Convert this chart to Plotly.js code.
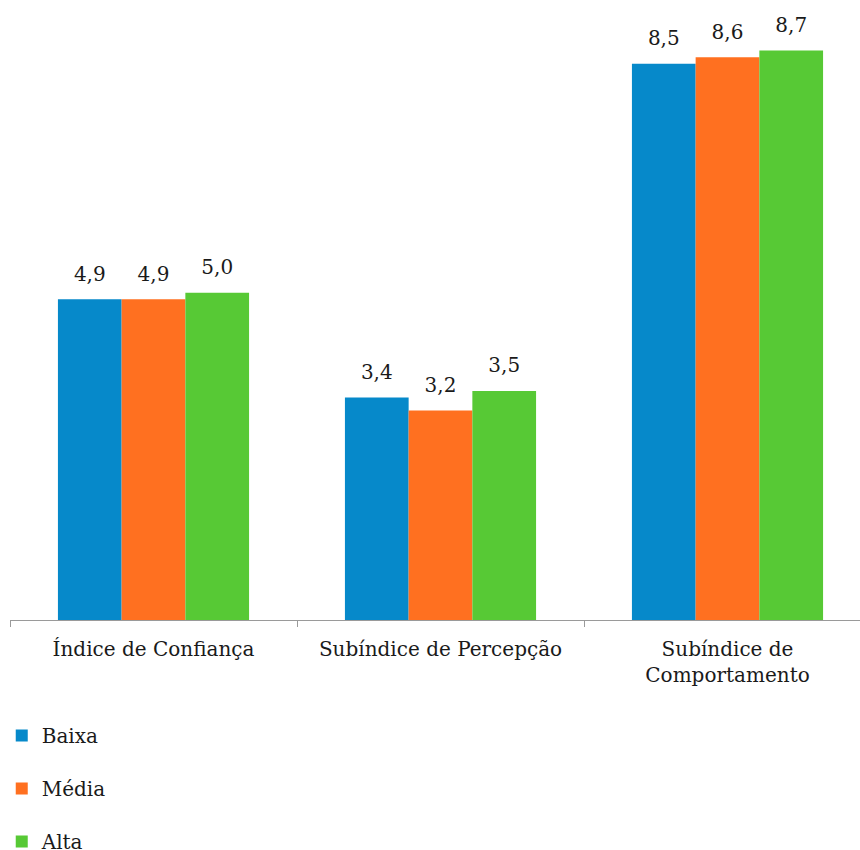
<!DOCTYPE html>
<html><head><meta charset="utf-8">
<script src="https://cdn.plot.ly/plotly-3.0.1.min.js"></script>
<style>html,body{margin:0;padding:0;overflow:hidden;background:#fff}</style>
</head><body><div id="chart"></div>
<script>
const categories = ["Índice de Confiança", "Subíndice de Percepção", "Subíndice de<br>Comportamento"];
const seriesNames = ["Baixa", "Média", "Alta"];
const baixa = [4.9, 3.4, 8.5];
const media = [4.9, 3.2, 8.6];
const alta = [5.0, 3.5, 8.7];
const colors = ["#0689CA", "#FF7020", "#57C935"];
const values = [baixa, media, alta];
const FONT = "DejaVu Serif";
const GAP = 0.334;
const bars = values.map((v, i) => ({
  type: "bar", x: categories, y: v, name: seriesNames[i], legendgroup: "g" + i,
  marker: {color: colors[i], line: {width: 0}},
  hoverinfo: "skip"
}));
const labels = values.map((v, i) => ({
  type: "scatter", mode: "markers+text", x: categories, y: v, showlegend: false,
  marker: {size: 20, opacity: 0, color: colors[i]},
  text: v.map(n => n.toFixed(1).replace(".", ",")), textposition: "top center", cliponaxis: false,
  textfont: {family: FONT, size: 20, color: "#1a1a1a"}, hoverinfo: "skip"
}));
const layout = {
  width: 872, height: 850,
  margin: {l: 10, r: 1, t: 11, b: 230, autoexpand: false},
  barmode: "group", bargap: GAP, bargroupgap: 0,
  scattermode: "group", scattergap: GAP,
  paper_bgcolor: "#fff", plot_bgcolor: "#fff",
  font: {family: FONT, size: 20, color: "#1a1a1a"},
  xaxis: {showline: true, linecolor: "#9a9a9a", linewidth: 1, ticks: "outside", tickson: "boundaries",
    ticklen: 6, tickcolor: "#9a9a9a", showgrid: false, zeroline: false, ticklabelstandoff: 11,
    tickfont: {family: FONT, size: 20, color: "#1a1a1a"}},
  yaxis: {range: [0, 9.305], visible: false, showgrid: false, zeroline: false},
  showlegend: true,
  legend: {orientation: "v", xref: "container", yref: "container", x: 0.002, xanchor: "left", y: 1 - 716/850, yanchor: "top",
    tracegroupgap: 24, font: {family: FONT, size: 20, color: "#1a1a1a"}, itemwidth: 30}
};
Plotly.newPlot("chart", bars.concat(labels), layout, {displayModeBar: false, staticPlot: true});
</script></body></html>
